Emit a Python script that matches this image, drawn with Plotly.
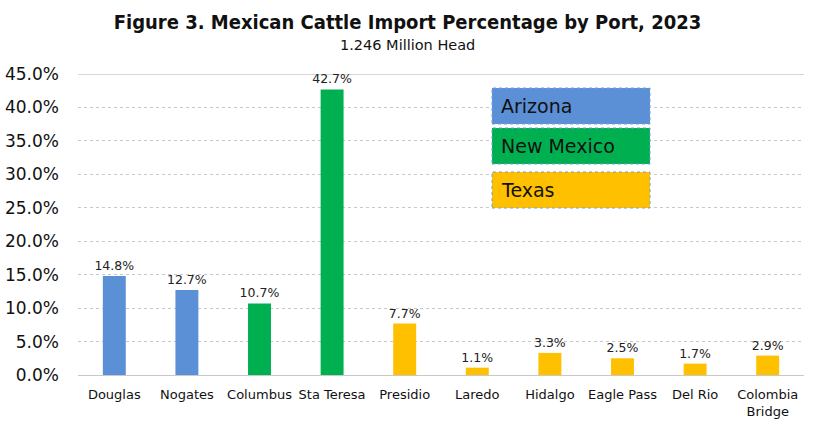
import plotly.graph_objects as go

ports = ["Douglas", "Nogates", "Columbus", "Sta Teresa", "Presidio", "Laredo",
         "Hidalgo", "Eagle Pass", "Del Rio", "Colombia<br>Bridge"]
pct = [14.8, 12.7, 10.7, 42.7, 7.7, 1.1, 3.3, 2.5, 1.7, 2.9]
state = ["Arizona", "Arizona", "New Mexico", "New Mexico", "Texas", "Texas",
         "Texas", "Texas", "Texas", "Texas"]
state_colors = {"Arizona": "#5B8FD6", "New Mexico": "#00B050", "Texas": "#FFC000"}
legend_states = ["Arizona", "New Mexico", "Texas"]

colors = [state_colors[s] for s in state]
FONT = "DejaVu Sans, Liberation Sans, Arial"

L, R, T, B = 78, 804, 74, 375
W, H = R - L, B - T

fig = go.Figure()
fig.add_trace(go.Bar(
    x=ports, y=pct, marker=dict(color=colors, line=dict(width=0)),
    width=0.316,
    text=[f"{v:.1f}%" for v in pct], textposition="outside", textangle=0,
    constraintext="none",
    textfont=dict(family=FONT, size=12.5, color="#222"),
    cliponaxis=False, showlegend=False,
))

# legend boxes
for s, (top, bot) in zip(legend_states, [(88, 124), (128, 164), (172, 208)]):
    fig.add_shape(type="rect", xref="paper", yref="paper",
                  x0=(492 - L) / W, x1=(650 - L) / W,
                  y0=(B - bot) / H, y1=(B - top) / H,
                  fillcolor=state_colors[s], line=dict(color="#6FA0E0", width=1, dash="dot"))
    fig.add_annotation(xref="paper", yref="paper", x=(499 - L) / W,
                       y=(B - (top + bot) / 2) / H, text=s, showarrow=False,
                       xanchor="left", yanchor="middle",
                       font=dict(family=FONT, size=19, color="#111"))

# solid top gridline
fig.add_shape(type="line", xref="paper", yref="y", x0=0, x1=1, y0=45, y1=45,
              line=dict(color="#C8C8C8", width=1.5), layer="below")

fig.update_layout(
    width=815, height=429,
    margin=dict(l=L, r=815 - R, t=T, b=429 - B),
    plot_bgcolor="white", paper_bgcolor="white",
    title=dict(text="<b>Figure 3. Mexican Cattle Import Percentage by Port, 2023</b>",
               x=0.5, xanchor="center", y=1 - 22 / 429, yanchor="middle",
               font=dict(family="DejaVu Sans Condensed, DejaVu Sans", size=20, color="#111")),
    font=dict(family=FONT, color="#111"),
)
fig.add_annotation(xref="paper", yref="paper", x=(407 - L) / W, y=(B - 45) / H,
                   text="1.246 Million Head",
                   showarrow=False, xanchor="center", yanchor="middle",
                   font=dict(family=FONT, size=14.5, color="#111"))
fig.update_yaxes(range=[0, 45], dtick=5, tickformat=".1f", ticksuffix="%",
                 showgrid=True, gridcolor="#C8C8C8", griddash="dot", gridwidth=1,
                 zeroline=True, zerolinecolor="#C8C8C8", zerolinewidth=1,
                 tickfont=dict(size=17, family=FONT), ticks="", showline=False,
                 automargin=False, ticklabelstandoff=18)
fig.update_xaxes(tickfont=dict(size=13, family=FONT), showline=False, ticks="",
                 automargin=False, ticklabelstandoff=10)

fig.write_html("out.html", post_script="document.body.style.margin='0';",
               config={"displayModeBar": False})
